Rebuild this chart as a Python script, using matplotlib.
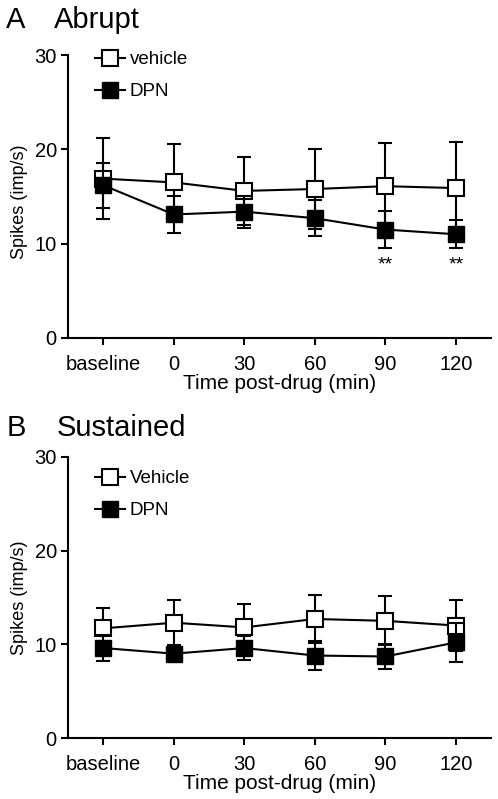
import matplotlib
matplotlib.use('Agg')
import matplotlib.pyplot as plt
from matplotlib.lines import Line2D

plt.rcParams['font.family'] = ['Liberation Sans', 'DejaVu Sans']

# categorias do eixo x
categorias = ['baseline', '0', '30', '60', '90', '120']

# painel A - Abrupt
veh_a = [16.9, 16.5, 15.6, 15.8, 16.1, 15.9]
veh_a_err = [4.3, 4.1, 3.6, 4.2, 4.6, 4.9]
dpn_a = [16.2, 13.1, 13.4, 12.7, 11.5, 11.0]
dpn_a_err = [2.4, 2.0, 1.7, 1.9, 2.0, 1.5]
estrelas_a = ['', '', '', '', '**', '**']

# painel B - Sustained
veh_b = [11.7, 12.3, 11.8, 12.7, 12.5, 12.0]
veh_b_err = [2.2, 2.4, 2.5, 2.6, 2.6, 2.7]
dpn_b = [9.6, 9.0, 9.6, 8.8, 8.7, 10.2]
dpn_b_err = [1.4, 0.7, 1.3, 1.5, 1.3, 2.1]

fig = plt.figure(figsize=(4.98, 7.99), dpi=100)
ax_a = fig.add_axes([0.1365, 0.577, 0.85, 0.354])
ax_b = fig.add_axes([0.1365, 0.0763, 0.85, 0.352])


def desenhar(ax, veh, veh_err, dpn, dpn_err, nome_veh, leg_y, ylab_y, estrelas=None):
    x = list(range(len(categorias)))
    ax.errorbar(x, veh, yerr=veh_err, fmt='-s', color='black', mfc='white',
                mec='black', mew=1.5, ms=11, lw=1.5, capsize=5, capthick=1.5,
                elinewidth=1.5, zorder=2)
    ax.errorbar(x, dpn, yerr=dpn_err, fmt='-s', color='black', mfc='black',
                mec='black', ms=11, lw=1.5, capsize=5, capthick=1.5,
                elinewidth=1.5, zorder=3)
    if estrelas:
        for xi, s in zip(x, estrelas):
            if s:
                ax.text(xi, 7.7, s, ha='center', va='center', fontsize=14)
    ax.set_xlim(-0.5, 5.5)
    ax.set_ylim(0, 30)
    ax.set_yticks([0, 10, 20, 30])
    ax.set_xticks(x)
    ax.set_xticklabels(categorias)
    ax.spines['top'].set_visible(False)
    ax.spines['right'].set_visible(False)
    ax.spines['left'].set_linewidth(1.5)
    ax.spines['bottom'].set_linewidth(1.5)
    ax.tick_params(width=1.5, length=5, labelsize=14.5)
    ax.tick_params(axis='x', pad=7)
    ax.tick_params(axis='y', pad=3)
    ax.set_ylabel('Spikes (imp/s)', fontsize=13)
    ax.yaxis.set_label_coords(-0.095, ylab_y)
    ax.set_xlabel('Time post-drug (min)', fontsize=15, labelpad=0)
    handles = [
        Line2D([], [], color='black', marker='s', mfc='white', mec='black',
               mew=1.5, ms=11, lw=1.5),
        Line2D([], [], color='black', marker='s', mfc='black', ms=11, lw=1.5),
    ]
    ax.legend(handles, [nome_veh, 'DPN'], loc='upper left',
              bbox_to_anchor=(0.063, leg_y), frameon=False, fontsize=13.5,
              handlelength=1.6, handletextpad=0.27, labelspacing=0.8,
              borderpad=0, borderaxespad=0)


desenhar(ax_a, veh_a, veh_a_err, dpn_a, dpn_a_err, 'vehicle', 1.014, 0.48, estrelas_a)
desenhar(ax_b, veh_b, veh_b_err, dpn_b, dpn_b_err, 'Vehicle', 0.953, 0.5)

fig.text(0.012, 0.975, 'A', fontsize=21, va='center')
fig.text(0.108, 0.975, 'Abrupt', fontsize=21, va='center')
fig.text(0.014, 0.464, 'B', fontsize=21, va='center')
fig.text(0.114, 0.464, 'Sustained', fontsize=21, va='center')

fig.savefig('out.png', dpi=100)
